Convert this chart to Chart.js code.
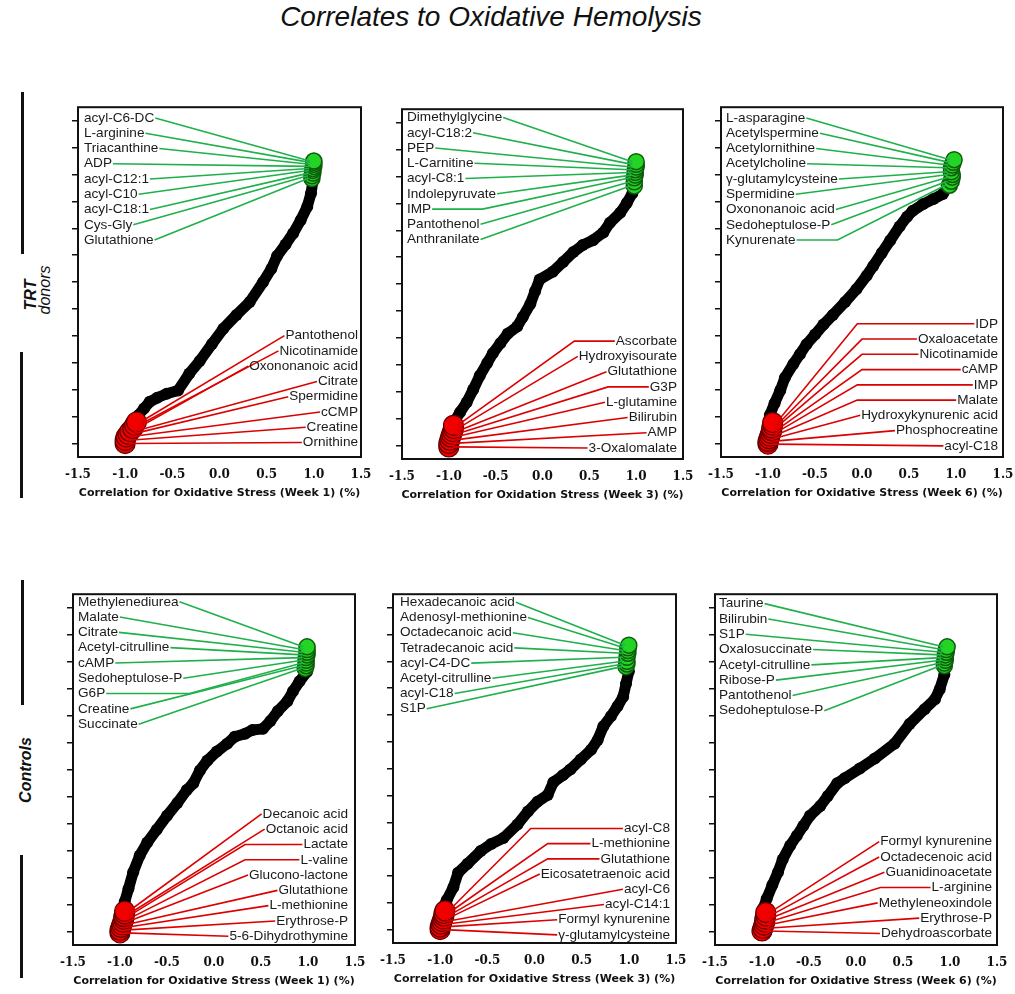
<!DOCTYPE html>
<html>
<head>
<meta charset="utf-8">
<script src="https://cdn.jsdelivr.net/npm/chart.js@4.4.1/dist/chart.umd.min.js"></script>
<style>
  body { margin: 0; background: #fff; width: 1015px; height: 994px; position: relative; overflow: hidden;
         font-family: "Liberation Sans", Arial, sans-serif; }
  canvas { position: absolute; }
  #title { position: absolute; left: 0; width: 982px; top: 3px; text-align: center;
           font-style: italic; font-size: 28px; line-height: 28px; color: #111; }
  .vline { position: absolute; background: #111; width: 3px; }
  .rot { position: absolute; transform: translate(-50%, -50%) rotate(-90deg); white-space: nowrap;
         font-size: 16px; line-height: 16px; font-style: italic; color: #111; }
</style>
</head>
<body>
<div id="title">Correlates to Oxidative Hemolysis</div>

<div class="vline" style="left:21px;top:92px;height:162px"></div>
<div class="vline" style="left:20px;top:352px;height:146px"></div>
<div class="rot" style="left:31px;top:295px;font-weight:bold">TRT</div>
<div class="rot" style="left:45px;top:290px">donors</div>

<div class="vline" style="left:21px;top:580px;height:125px"></div>
<div class="vline" style="left:20px;top:855px;height:123px"></div>
<div class="rot" style="left:26px;top:770px;font-weight:bold">Controls</div>

<script>
// shared ticks
const xTicks = [-1.5, -1.0, -0.5, 0.0, 0.5, 1.0, 1.5];
const yTicks = [0, 1, 2, 3, 4, 5, 6, 7, 8, 9, 10, 11, 12];

// TRT donors, week 1
const p1CurveX = [-0.98, -0.92, -0.86, -0.8, -0.74, -0.66, -0.56, -0.44, -0.32, -0.21, -0.08, 0.04, 0.18, 0.32, 0.46, 0.55, 0.61, 0.7, 0.78, 0.86, 0.93, 0.97, 0.99, 1.0];
const p1CurveY = [0.4, 0.8, 1.05, 1.3, 1.55, 1.7, 1.85, 1.97, 2.6, 3.07, 3.7, 4.27, 4.78, 5.26, 5.99, 6.5, 6.97, 7.4, 7.81, 8.3, 8.8, 9.3, 9.74, 10.36];
const p1GreenNames = ["acyl-C6-DC", "L-arginine", "Triacanthine", "ADP", "acyl-C12:1", "acyl-C10", "acyl-C18:1", "Cys-Gly", "Glutathione"];
const p1GreenX = [1.0, 1.0, 1.0, 1.0, 0.99, 0.99, 0.99, 0.98, 0.98];
const p1GreenY = [10.5, 10.45, 10.38, 10.3, 10.22, 10.15, 10.05, 9.95, 9.85];
const p1RedNames = ["Pantothenol", "Nicotinamide", "Oxononanoic acid", "Citrate", "Spermidine", "cCMP", "Creatine", "Ornithine"];
const p1RedX = [-0.88, -0.9, -0.92, -0.95, -0.97, -0.99, -1.0, -1.0];
const p1RedY = [0.8, 0.68, 0.56, 0.45, 0.35, 0.25, 0.12, 0.0];

// TRT donors, week 3
const p2CurveX = [-0.99, -0.96, -0.93, -0.88, -0.81, -0.74, -0.67, -0.59, -0.53, -0.45, -0.37, -0.27, -0.21, -0.13, -0.08, -0.03, 0.11, 0.22, 0.33, 0.43, 0.54, 0.65, 0.72, 0.83, 0.9, 0.96, 1.0];
const p2CurveY = [0.3, 0.6, 0.95, 1.24, 1.6, 2.08, 2.59, 3.07, 3.43, 3.8, 4.16, 4.42, 4.78, 5.26, 5.73, 6.17, 6.46, 6.82, 7.19, 7.45, 7.63, 7.92, 8.28, 8.65, 9.01, 9.38, 9.89];
const p2GreenNames = ["Dimethylglycine", "acyl-C18:2", "PEP", "L-Carnitine", "acyl-C8:1", "Indolepyruvate", "IMP", "Pantothenol", "Anthranilate"];
const p2GreenX = [1.0, 1.0, 1.0, 0.99, 0.99, 0.99, 0.98, 0.98, 0.98];
const p2GreenY = [10.55, 10.45, 10.35, 10.25, 10.15, 10.05, 9.95, 9.8, 9.65];
const p2RedNames = ["Ascorbate", "Hydroxyisourate", "Glutathione", "G3P", "L-glutamine", "Bilirubin", "AMP", "3-Oxalomalate"];
const p2RedX = [-0.95, -0.95, -0.96, -0.97, -0.98, -0.99, -1.0, -1.0];
const p2RedY = [0.75, 0.63, 0.52, 0.42, 0.32, 0.2, 0.08, -0.05];

// TRT donors, week 6
const p3CurveX = [-1.0, -0.98, -0.93, -0.87, -0.82, -0.73, -0.66, -0.59, -0.5, -0.41, -0.31, -0.18, -0.06, 0.05, 0.12, 0.21, 0.3, 0.4, 0.48, 0.54, 0.65, 0.76, 0.86, 0.91, 0.97];
const p3CurveY = [0.5, 1.06, 1.5, 1.97, 2.45, 2.96, 3.32, 3.69, 4.05, 4.42, 4.78, 5.26, 5.73, 6.24, 6.6, 7.08, 7.55, 8.07, 8.43, 8.65, 8.9, 9.09, 9.27, 9.53, 10.26];
const p3GreenNames = ["L-asparagine", "Acetylspermine", "Acetylornithine", "Acetylcholine", "γ-glutamylcysteine", "Spermidine", "Oxononanoic acid", "Sedoheptulose-P", "Kynurenate"];
const p3GreenX = [0.98, 0.97, 0.96, 0.95, 0.95, 0.96, 0.96, 0.95, 0.93];
const p3GreenY = [10.55, 10.45, 10.35, 10.25, 10.1, 10.0, 9.9, 9.75, 9.6];
const p3RedNames = ["IDP", "Oxaloacetate", "Nicotinamide", "cAMP", "IMP", "Malate", "Hydroxykynurenic acid", "Phosphocreatine", "acyl-C18"];
const p3RedX = [-0.95, -0.95, -0.96, -0.96, -0.97, -0.98, -0.99, -1.0, -1.0];
const p3RedY = [0.78, 0.68, 0.58, 0.48, 0.38, 0.28, 0.18, 0.08, -0.02];

// Controls, week 1
const p4CurveX = [-0.99, -0.97, -0.95, -0.91, -0.86, -0.79, -0.71, -0.61, -0.5, -0.39, -0.29, -0.22, -0.15, -0.07, 0.03, 0.14, 0.22, 0.33, 0.41, 0.52, 0.6, 0.68, 0.78, 0.84, 0.91, 0.99];
const p4CurveY = [0.4, 0.8, 1.1, 1.58, 2.2, 2.82, 3.3, 3.77, 4.29, 4.76, 5.24, 5.49, 5.97, 6.34, 6.67, 6.96, 7.22, 7.33, 7.47, 7.51, 7.8, 8.17, 8.53, 8.9, 9.27, 9.63];
const p4GreenNames = ["Methylenediurea", "Malate", "Citrate", "Acetyl-citrulline", "cAMP", "Sedoheptulose-P", "G6P", "Creatine", "Succinate"];
const p4GreenX = [0.99, 0.99, 0.99, 0.99, 0.98, 0.98, 0.98, 0.98, 0.97];
const p4GreenY = [10.55, 10.45, 10.35, 10.25, 10.15, 10.05, 9.95, 9.85, 9.75];
const p4RedNames = ["Decanoic acid", "Octanoic acid", "Lactate", "L-valine", "Glucono-lactone", "Glutathione", "L-methionine", "Erythrose-P", "5-6-Dihydrothymine"];
const p4RedX = [-0.95, -0.95, -0.96, -0.96, -0.97, -0.98, -0.99, -1.0, -1.0];
const p4RedY = [0.75, 0.65, 0.55, 0.45, 0.35, 0.25, 0.15, 0.05, -0.05];

// Controls, week 3
const p5CurveX = [-0.99, -0.97, -0.93, -0.86, -0.81, -0.71, -0.57, -0.46, -0.33, -0.18, -0.07, 0.03, 0.14, 0.2, 0.3, 0.38, 0.49, 0.6, 0.67, 0.73, 0.81, 0.88, 0.94, 0.97, 1.0];
const p5CurveY = [0.4, 0.84, 1.1, 1.58, 2.12, 2.45, 2.93, 3.19, 3.41, 3.92, 4.4, 4.76, 5.02, 5.49, 5.75, 5.97, 6.34, 6.7, 7.07, 7.58, 7.95, 8.32, 8.68, 9.16, 9.63];
const p5GreenNames = ["Hexadecanoic acid", "Adenosyl-methionine", "Octadecanoic acid", "Tetradecanoic acid", "acyl-C4-DC", "Acetyl-citrulline", "acyl-C18", "S1P"];
const p5GreenX = [1.0, 0.99, 0.99, 0.99, 0.98, 0.98, 0.98, 0.97];
const p5GreenY = [10.6, 10.5, 10.4, 10.3, 10.15, 10.0, 9.9, 9.8];
const p5RedNames = ["acyl-C8", "L-methionine", "Glutathione", "Eicosatetraenoic acid", "acyl-C6", "acyl-C14:1", "Formyl kynurenine", "γ-glutamylcysteine"];
const p5RedX = [-0.95, -0.96, -0.96, -0.97, -0.98, -0.99, -1.0, -1.0];
const p5RedY = [0.7, 0.6, 0.5, 0.4, 0.3, 0.2, 0.1, 0.0];

// Controls, week 6
const p6CurveX = [-1.0, -0.99, -0.95, -0.89, -0.83, -0.78, -0.7, -0.63, -0.56, -0.49, -0.38, -0.3, -0.2, -0.12, 0.04, 0.2, 0.41, 0.57, 0.73, 0.84, 0.89, 0.94, 0.95];
const p6CurveY = [0.4, 0.84, 1.21, 1.72, 2.2, 2.67, 3.19, 3.55, 3.92, 4.29, 4.65, 5.02, 5.49, 5.68, 6.04, 6.41, 6.96, 7.69, 8.24, 8.61, 8.97, 9.52, 10.1];
const p6GreenNames = ["Taurine", "Bilirubin", "S1P", "Oxalosuccinate", "Acetyl-citrulline", "Ribose-P", "Pantothenol", "Sedoheptulose-P"];
const p6GreenX = [0.97, 0.96, 0.96, 0.95, 0.95, 0.95, 0.94, 0.94];
const p6GreenY = [10.55, 10.45, 10.35, 10.25, 10.15, 10.05, 9.95, 9.85];
const p6RedNames = ["Formyl kynurenine", "Octadecenoic acid", "Guanidinoacetate", "L-arginine", "Methyleneoxindole", "Erythrose-P", "Dehydroascorbate"];
const p6RedX = [-0.96, -0.96, -0.97, -0.97, -0.98, -0.99, -1.0];
const p6RedY = [0.7, 0.58, 0.46, 0.35, 0.24, 0.12, 0.02];

// layout: plot box in page px, label rows (y in axis units), elbows of leader lines (x in axis units)
const ROW = 0.567;
const panels = [
  { box: [78, 102, 361, 457], axis: "Correlation for Oxidative Stress (Week 1) (%)",
    curve: [p1CurveX, p1CurveY], green: [p1GreenNames, p1GreenX, p1GreenY], red: [p1RedNames, p1RedX, p1RedY],
    gx: 6, gy0: 12.1, rx: 3, ry0: 4.01, gKnee: {}, rKnee: {} },
  { box: [402, 104, 683, 459], axis: "Correlation for Oxidation Stress (Week 3) (%)",
    curve: [p2CurveX, p2CurveY], green: [p2GreenNames, p2GreenX, p2GreenY], red: [p2RedNames, p2RedX, p2RedY],
    gx: 5, gy0: 12.19, rx: 6, ry0: 3.88, gKnee: { 6: -0.64 }, rKnee: { 0: 0.34, 3: 0.70 } },
  { box: [721, 102, 1003, 457], axis: "Correlation for Oxidative Stress (Week 6) (%)",
    curve: [p3CurveX, p3CurveY], green: [p3GreenNames, p3GreenX, p3GreenY], red: [p3RedNames, p3RedX, p3RedY],
    gx: 5, gy0: 12.1, rx: 5, ry0: 4.45, gKnee: { 8: -0.26 }, rKnee: { 0: -0.05, 1: 0.0, 2: 0.0, 3: 0.0, 4: -0.05, 5: -0.05 } },
  { box: [73, 589, 355, 945], axis: "Correlation for Oxidative Stress (Week 1) (%)",
    curve: [p4CurveX, p4CurveY], green: [p4GreenNames, p4GreenX, p4GreenY], red: [p4RedNames, p4RedX, p4RedY],
    gx: 5, gy0: 12.22, rx: 7, ry0: 4.36, gKnee: { 6: -0.26 }, rKnee: { 2: 0.33, 3: 0.33 } },
  { box: [393, 589, 676, 943], axis: "Correlation for Oxidative Stress (Week 3) (%)",
    curve: [p5CurveX, p5CurveY], green: [p5GreenNames, p5GreenX, p5GreenY], red: [p5RedNames, p5RedX, p5RedY],
    gx: 7, gy0: 12.2, rx: 6, ry0: 3.77, gKnee: {}, rKnee: { 0: -0.04, 1: 0.14, 2: 0.14 } },
  { box: [715, 589, 997, 945], axis: "Correlation for Oxidative Stress (Week 6) (%)",
    curve: [p6CurveX, p6CurveY], green: [p6GreenNames, p6GreenX, p6GreenY], red: [p6RedNames, p6RedX, p6RedY],
    gx: 4, gy0: 12.15, rx: 5, ry0: 3.33, gKnee: {}, rKnee: { 3: 0.26 } }
];

const LABEL_FONT = '13.6px "Liberation Sans", Arial, sans-serif';
const GREEN_LINE = "#1fb04a";
const RED_LINE = "#dc0000";

function pairs(xs, ys) {
  return xs.map((x, i) => ({ x: x, y: ys[i] }));
}

function overlay(p) {
  return {
    id: "overlay",
    afterDatasetsDraw(chart) {
      const { ctx, chartArea: a, scales: { x, y } } = chart;
      ctx.save();
      ctx.font = LABEL_FONT;
      ctx.textBaseline = "middle";
      ctx.lineWidth = 1.6;

      const [gNames, gX, gY] = p.green;
      gNames.forEach((name, i) => {
        const tx = a.left + p.gx;
        const ty = y.getPixelForValue(p.gy0 - i * ROW);
        const w = ctx.measureText(name).width;
        ctx.strokeStyle = GREEN_LINE;
        ctx.beginPath();
        ctx.moveTo(tx + w + 1, ty);
        if (p.gKnee[i] !== undefined) ctx.lineTo(x.getPixelForValue(p.gKnee[i]), ty);
        ctx.lineTo(x.getPixelForValue(gX[i]) - 4, y.getPixelForValue(gY[i]));
        ctx.stroke();
      });

      const [rNames, rX, rY] = p.red;
      rNames.forEach((name, i) => {
        const tr = a.right - p.rx;
        const ty = y.getPixelForValue(p.ry0 - i * ROW);
        const w = ctx.measureText(name).width;
        ctx.strokeStyle = RED_LINE;
        ctx.beginPath();
        ctx.moveTo(tr - w - 1, ty);
        if (p.rKnee[i] !== undefined) ctx.lineTo(x.getPixelForValue(p.rKnee[i]), ty);
        ctx.lineTo(x.getPixelForValue(rX[i]) + 4, y.getPixelForValue(rY[i]));
        ctx.stroke();
      });

      ctx.fillStyle = "#1a1a1a";
      ctx.textAlign = "left";
      gNames.forEach((name, i) => ctx.fillText(name, a.left + p.gx, y.getPixelForValue(p.gy0 - i * ROW)));
      ctx.textAlign = "right";
      rNames.forEach((name, i) => ctx.fillText(name, a.right - p.rx, y.getPixelForValue(p.ry0 - i * ROW)));

      // frame
      ctx.strokeStyle = "#111";
      ctx.lineWidth = 2;
      ctx.strokeRect(a.left, a.top, a.right - a.left, a.bottom - a.top);

      // axis title
      ctx.font = 'bold 11px "DejaVu Sans", sans-serif';
      ctx.textAlign = "center";
      ctx.fillStyle = "#111";
      ctx.fillText(p.axis, (a.left + a.right) / 2, a.bottom + 36);
      ctx.restore();
    }
  };
}

panels.forEach((p) => {
  const [l, t, r, b] = p.box;
  const cv = document.createElement("canvas");
  const W = r - l + 40, H = b - t + 6 + 48;
  cv.width = W; cv.height = H;
  cv.style.left = (l - 20) + "px";
  cv.style.top = (t - 6) + "px";
  cv.style.width = W + "px";
  cv.style.height = H + "px";
  document.body.appendChild(cv);

  const greenPts = pairs(p.green[1], p.green[2]).reverse();
  const redPts = pairs(p.red[1], p.red[2]).reverse();

  new Chart(cv.getContext("2d"), {
    type: "scatter",
    data: {
      datasets: [
        { data: redPts, order: 1, pointRadius: 10, backgroundColor: "#f20000",
          borderColor: "#600000", borderWidth: 1.2 },
        { data: greenPts, order: 2, pointRadius: 8, backgroundColor: "#24d424",
          borderColor: "#0c5c0c", borderWidth: 1.5 },
        { data: pairs(p.curve[0], p.curve[1]), order: 3, showLine: true, borderColor: "#000",
          borderWidth: 11, borderCapStyle: "round", borderJoinStyle: "round", tension: 0,
          pointRadius: 6, pointBorderWidth: 0, pointBackgroundColor: "#000" }
      ]
    },
    options: {
      responsive: false,
      animation: false,
      layout: { padding: { left: 10, right: 20, top: 6, bottom: 0 } },
      plugins: { legend: { display: false }, tooltip: { enabled: false } },
      scales: {
        x: {
          type: "linear", min: -1.5, max: 1.5,
          afterBuildTicks: (s) => { s.ticks = xTicks.map((v) => ({ value: v })); },
          afterFit: (s) => { s.height = 48; },
          grid: { display: false },
          border: { display: false },
          ticks: { color: "#111", padding: 3, font: { family: '"DejaVu Serif", serif', size: 12, weight: "bold" },
                   callback: (v) => Number(v).toFixed(1) }
        },
        y: {
          type: "linear", min: -0.5, max: 12.5,
          afterBuildTicks: (s) => { s.ticks = yTicks.map((v) => ({ value: v })); },
          afterFit: (s) => { s.width = 10; },
          grid: { drawOnChartArea: false, drawTicks: true, tickLength: 6, color: "#111", lineWidth: 1.5 },
          border: { display: false },
          ticks: { display: false }
        }
      }
    },
    plugins: [overlay(p)]
  });
});
</script>
</body>
</html>
